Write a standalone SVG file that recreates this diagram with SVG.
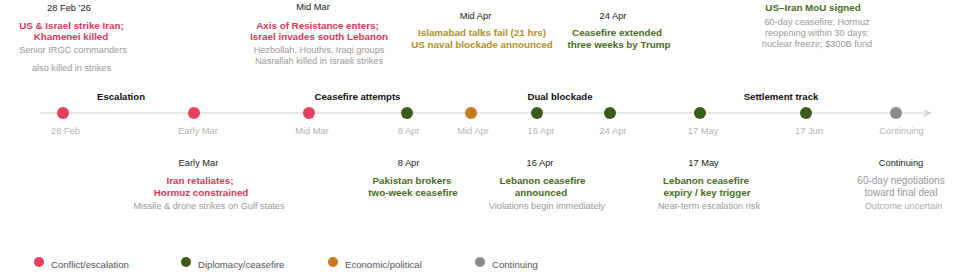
<svg xmlns="http://www.w3.org/2000/svg" width="959" height="276" viewBox="0 0 959 276">
<defs>
<marker id="arr" viewBox="0 0 10 10" refX="9" refY="5" markerWidth="6" markerHeight="6" orient="auto">
<path d="M0,1 L9,5 L0,9" fill="none" stroke="#c8c8c8" stroke-width="1.5"/>
</marker>
<style>
text{font-family:"Liberation Sans",Arial,sans-serif;text-anchor:middle}
.date{font-size:9.3px;fill:#222}
.phase{font-size:9.6px;font-weight:bold;fill:#111}
.t{font-size:9.8px;font-weight:bold}
.red{fill:#d9385a}
.grn{fill:#4b6a24}
.gold{fill:#b2901e}
.desc{font-size:9.2px;fill:#9a9a9a}
.desc2{font-size:10px;fill:#999}
.ax{font-size:9.3px;fill:#b4b4b4}
.leg{font-size:9.6px;fill:#555;text-anchor:start}
.dr{fill:#e5405c}
.dg{fill:#3e5b1c}
.do{fill:#c97a1c}
.dy{fill:#8a8a8a}
</style>
</defs>
<rect width="959" height="276" fill="#fff"/>

<g id="connectors">
<line x1="40" y1="113" x2="930" y2="113" stroke="#cfcfcf" stroke-width="1.2" marker-end="url(#arr)"/>
</g>

<g id="phases">
<text class="phase" x="121" y="100">Escalation</text>
<text class="phase" x="357.5" y="100">Ceasefire attempts</text>
<text class="phase" x="560" y="100">Dual blockade</text>
<text class="phase" x="781" y="100">Settlement track</text>
</g>

<g id="e1">
<circle class="dr" cx="63" cy="113" r="6"/>
<text class="ax" x="65.5" y="134">28 Feb</text>
<text class="date" x="69" y="11">28 Feb ’26</text>
<text class="t red" x="71.5" y="28.5">US &amp; Israel strike Iran;</text>
<text class="t red" x="71" y="40">Khamenei killed</text>
<text class="desc" x="73" y="53">Senior IRGC commanders</text>
<text class="desc" x="71.5" y="71">also killed in strikes</text>
</g>

<g id="e2">
<circle class="dr" cx="194" cy="113" r="6"/>
<text class="ax" x="198" y="134">Early Mar</text>
<text class="date" x="198.5" y="166">Early Mar</text>
<text class="t red" x="200" y="184">Iran retaliates;</text>
<text class="t red" x="201" y="195.5">Hormuz constrained</text>
<text class="desc" x="209" y="208.5">Missile &amp; drone strikes on Gulf states</text>
</g>

<g id="e3">
<circle class="dr" cx="309" cy="113" r="6"/>
<text class="ax" x="312" y="134">Mid Mar</text>
<text class="date" x="313" y="10">Mid Mar</text>
<text class="t red" x="317.5" y="28.5">Axis of Resistance enters;</text>
<text class="t red" x="319" y="39.5">Israel invades south Lebanon</text>
<text class="desc" x="319" y="53">Hezbollah, Houthis, Iraqi groups</text>
<text class="desc" x="319" y="64">Nasrallah killed in Israeli strikes</text>
</g>

<g id="e4">
<circle class="dg" cx="407" cy="113" r="6"/>
<text class="ax" x="408.5" y="134">8 Apr</text>
<text class="date" x="408.5" y="166">8 Apr</text>
<text class="t grn" x="412" y="184">Pakistan brokers</text>
<text class="t grn" x="413" y="195.5">two-week ceasefire</text>
</g>

<g id="e5">
<circle class="do" cx="471" cy="113" r="6"/>
<text class="ax" x="473" y="134">Mid Apr</text>
<text class="date" x="475.5" y="19">Mid Apr</text>
<text class="t gold" x="482" y="36">Islamabad talks fail (21 hrs)</text>
<text class="t gold" x="482" y="47.5">US naval blockade announced</text>
</g>

<g id="e6">
<circle class="dg" cx="537" cy="113" r="6"/>
<text class="ax" x="541" y="134">16 Apr</text>
<text class="date" x="540" y="166">16 Apr</text>
<text class="t grn" x="542.5" y="184">Lebanon ceasefire</text>
<text class="t grn" x="541" y="195.5">announced</text>
<text class="desc" x="547" y="208.5">Violations begin immediately</text>
</g>

<g id="e7">
<circle class="dg" cx="610" cy="113" r="6"/>
<text class="ax" x="613" y="134">24 Apr</text>
<text class="date" x="613" y="19">24 Apr</text>
<text class="t grn" x="617" y="36">Ceasefire extended</text>
<text class="t grn" x="619" y="47.5">three weeks by Trump</text>
</g>

<g id="e8">
<circle class="dg" cx="700" cy="113" r="6"/>
<text class="ax" x="703" y="134">17 May</text>
<text class="date" x="703.5" y="166">17 May</text>
<text class="t grn" x="706" y="184">Lebanon ceasefire</text>
<text class="t grn" x="707" y="195.5">expiry / key trigger</text>
<text class="desc" x="709" y="208.5">Near-term escalation risk</text>
</g>

<g id="e9">
<circle class="dg" cx="806" cy="113" r="6"/>
<text class="ax" x="809" y="134">17 Jun</text>
<text class="t grn" x="813" y="11">US–Iran MoU signed</text>
<text class="desc" x="817" y="25">60-day ceasefire; Hormuz</text>
<text class="desc" x="817" y="36">reopening within 30 days;</text>
<text class="desc" x="817" y="46.5">nuclear freeze; $300B fund</text>
</g>

<g id="e10">
<circle class="dy" cx="896" cy="113" r="6"/>
<text class="ax" x="901.5" y="134">Continuing</text>
<text class="date" x="901" y="166">Continuing</text>
<text class="desc2" x="901" y="184">60-day negotiations</text>
<text class="desc2" x="901" y="195.5">toward final deal</text>
<text class="desc" x="903.5" y="208.5" style="fill:#aaa">Outcome uncertain</text>
</g>

<g id="legend">
<circle class="dr" cx="39" cy="262" r="5"/>
<text class="leg" x="51" y="268">Conflict/escalation</text>
<circle class="dg" cx="186" cy="262" r="5"/>
<text class="leg" x="198" y="268">Diplomacy/ceasefire</text>
<circle class="do" cx="333" cy="262" r="5"/>
<text class="leg" x="345" y="268">Economic/political</text>
<circle class="dy" cx="480" cy="262" r="5"/>
<text class="leg" x="492" y="268">Continuing</text>
</g>
</svg>
